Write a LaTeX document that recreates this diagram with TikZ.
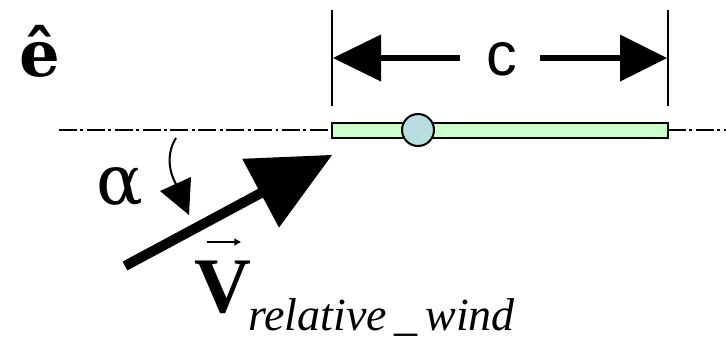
\documentclass[tikz,border=0pt]{standalone}
\usepackage{fontspec}
\setmainfont{Liberation Serif}
\newfontfamily\arialf{Liberation Sans}
\newfontfamily\dvserif{DejaVu Serif}
\usetikzlibrary{arrows.meta}
\definecolor{foilgreen}{RGB}{204,255,204}
\definecolor{pivotblue}{RGB}{185,222,225}
\tikzset{
  thinline/.style={line width=1.5pt},
  axisline/.style={line width=1.5pt, dash pattern=on 13.5pt off 2.6pt on 2.2pt off 2.6pt},
  lbl/.style={inner sep=0pt, anchor=base}
}
\begin{document}
\begin{tikzpicture}[x=0.75pt,y=-0.75pt]
\useasboundingbox (0,0) rectangle (726,340);
% axis
\coordinate (axL) at (59,130);
\coordinate (axR) at (726,130);
\draw[axisline] (axL) -- (332,130);
\draw[axisline] (668,130) -- (axR);
% airfoil
\node[draw, thinline, fill=foilgreen, minimum width=336*0.75pt, minimum height=15*0.75pt, inner sep=0pt] (foil) at (500,130) {};
\node[draw, thinline, fill=pivotblue, circle, minimum size=32*0.75pt, inner sep=0pt] (pivot) at (418,130) {};
% dimension
\coordinate (d1t) at (332,10); \coordinate (d1b) at (332,106);
\coordinate (d2t) at (668,10); \coordinate (d2b) at (668,106);
\draw[thinline] (d1t) -- (d1b);
\draw[thinline] (d2t) -- (d2b);
\node[lbl, font=\arialf\fontsize{46}{50}\selectfont] (c) at (502,75) {c};
\fill (333,58) -- (381,34.5) -- (381,81.5) -- cycle;
\fill (380,55) rectangle (460,61);
\fill (667,58) -- (620,34.5) -- (620,81.5) -- cycle;
\fill (540,55) rectangle (621,61);
% e-hat
\node[lbl, font=\dvserif\fontsize{48}{52}\selectfont\bfseries] (ehat) at (40,76) {ê};
% alpha
\node[lbl, font=\dvserif\fontsize{52}{56}\selectfont] (alpha) at (120,204) {α};
\draw[thinline] (176,138) .. controls (167,152) and (168,170) .. (176,184);
\fill (160,191) -- (191,177) -- (189,215) -- cycle;
% big arrow (relative wind)
\fill (122.6,261.6) -- (258.2,188.8) -- (242.2,158.8) -- (332,155) -- (279,227.6) -- (263.0,197.6) -- (127.4,270.4) -- cycle;
% V label
\node[lbl, font=\fontsize{59}{62}\selectfont\bfseries] (V) at (223,312) {V};
\draw[line width=1.5pt, -{Triangle[length=5pt,width=5pt]}] (207,242) -- (241,242);
\node[inner sep=0pt, anchor=base west, font=\fontsize{34.5}{38}\selectfont\itshape] (sub) at (248,330) {relative\,\_\,wind};
\end{tikzpicture}
\end{document}
